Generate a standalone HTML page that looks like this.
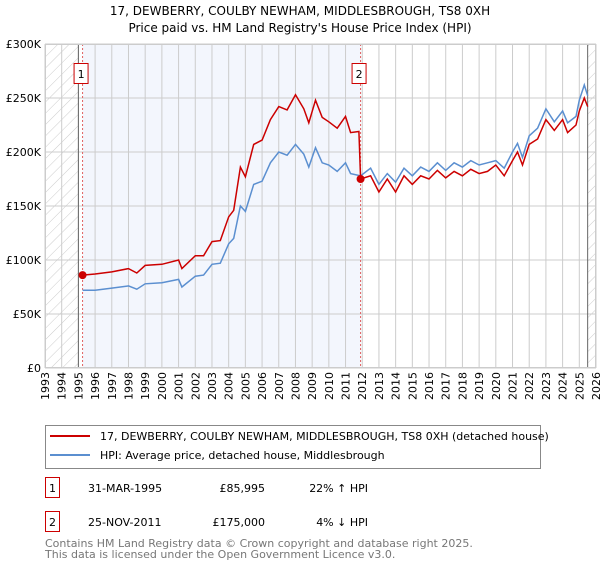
<!DOCTYPE html>
<html><head><meta charset="utf-8"><style>
body{margin:0;background:#fff;font-family:"DejaVu Sans","Liberation Sans",sans-serif;}
</style></head><body>
<svg width="600" height="560" xmlns="http://www.w3.org/2000/svg" style="font-family:'DejaVu Sans','Liberation Sans',sans-serif">
<defs><pattern id="hatch" width="8" height="8" patternUnits="userSpaceOnUse" patternTransform="rotate(45)"><line x1="0" y1="0" x2="0" y2="8" stroke="#ccc" stroke-width="1"/></pattern></defs>
<text x="300" y="15" text-anchor="middle" font-size="12">17, DEWBERRY, COULBY NEWHAM, MIDDLESBROUGH, TS8 0XH</text>
<text x="300" y="32" text-anchor="middle" font-size="12">Price paid vs. HM Land Registry's House Price Index (HPI)</text>
<g id="plot"></g>
<g>
<rect x="45.5" y="425.5" width="495" height="43" fill="#fff" stroke="#888"/>
<line x1="50" y1="436" x2="90" y2="436" stroke="#cc0000" stroke-width="2"/>
<text x="100" y="440" font-size="11">17, DEWBERRY, COULBY NEWHAM, MIDDLESBROUGH, TS8 0XH (detached house)</text>
<line x1="50" y1="455" x2="90" y2="455" stroke="#5b8fd0" stroke-width="2"/>
<text x="100" y="459" font-size="11">HPI: Average price, detached house, Middlesbrough</text>
</g>
<g font-size="11">
<rect x="45.5" y="477.5" width="14" height="20" fill="#fff" stroke="#cc0000"/>
<text x="52.5" y="492" text-anchor="middle">1</text>
<text x="88" y="492">31-MAR-1995</text><text x="265" y="492" text-anchor="end">£85,995</text><text x="368" y="492" text-anchor="end">22% ↑ HPI</text>
<rect x="45.5" y="511.5" width="14" height="20" fill="#fff" stroke="#cc0000"/>
<text x="52.5" y="526" text-anchor="middle">2</text>
<text x="88" y="526">25-NOV-2011</text><text x="265" y="526" text-anchor="end">£175,000</text><text x="368" y="526" text-anchor="end">4% ↓ HPI</text>
</g>
<text x="45" y="547" font-size="11" fill="#777">Contains HM Land Registry data © Crown copyright and database right 2025.</text>
<text x="45" y="558" font-size="11" fill="#777">This data is licensed under the Open Government Licence v3.0.</text>
</svg>
<script>
const yTicks=[0,50,100,150,200,250,300];
const yTickLabels=["£0","£50K","£100K","£150K","£200K","£250K","£300K"];
const xYears=[1993,1994,1995,1996,1997,1998,1999,2000,2001,2002,2003,2004,2005,2006,2007,2008,2009,2010,2011,2012,2013,2014,2015,2016,2017,2018,2019,2020,2021,2022,2023,2024,2025,2026];
const hpiDates=[1995.25,1996,1997,1998,1998.5,1999,2000,2001,2001.2,2002,2002.5,2003,2003.5,2004,2004.3,2004.7,2005,2005.5,2006,2006.5,2007,2007.5,2008,2008.5,2008.8,2009.2,2009.6,2010,2010.5,2011,2011.3,2011.9,2012.5,2013,2013.5,2014,2014.5,2015,2015.5,2016,2016.5,2017,2017.5,2018,2018.5,2019,2019.5,2020,2020.5,2021,2021.3,2021.6,2022,2022.5,2023,2023.5,2024,2024.3,2024.8,2025,2025.3,2025.5];
const hpiValues=[72,72,74,76,73,78,79,82,75,85,86,96,97,115,120,150,145,170,173,190,200,197,207,198,186,204,190,188,182,190,180,178,185,170,180,172,185,178,186,182,190,183,190,186,192,188,190,192,185,200,208,195,215,222,240,228,238,227,233,248,262,252];
const priceDates=[1995.25,1996,1997,1998,1998.5,1999,2000,2001,2001.2,2002,2002.5,2003,2003.5,2004,2004.3,2004.7,2005,2005.5,2006,2006.5,2007,2007.5,2008,2008.5,2008.8,2009.2,2009.6,2010,2010.5,2011,2011.3,2011.8,2011.9,2012.5,2013,2013.5,2014,2014.5,2015,2015.5,2016,2016.5,2017,2017.5,2018,2018.5,2019,2019.5,2020,2020.5,2021,2021.3,2021.6,2022,2022.5,2023,2023.5,2024,2024.3,2024.8,2025,2025.3,2025.5];
const priceValues=[86,87,89,92,88,95,96,100,92,104,104,117,118,140,146,186,177,207,211,230,242,239,253,240,227,248,232,228,222,233,218,219,175,178,163,175,163,178,170,178,175,183,176,182,178,184,180,182,188,178,192,200,188,207,212,230,220,230,218,225,238,250,242];
const saleDates=[1995.25,2011.9];
const saleValues=[86,175];
const saleLabels=["1","2"];

const L=45,R=596,T=44,B=368,X0=1993,X1=2026,YMAX=300;
const xs=v=>L+(v-X0)/(X1-X0)*(R-L);
const ys=v=>B-v/YMAX*(B-T);
const NS="http://www.w3.org/2000/svg";
const plot=document.getElementById('plot');
function mk(tag,attrs,parent){const e=document.createElementNS(NS,tag);for(const k in attrs)e.setAttribute(k,attrs[k]);(parent||plot).appendChild(e);return e;}
let e;
e=mk('rect',{x:L,y:T,width:R-L,height:B-T,fill:'#fff'});
e=mk('rect',{x:xs(1993),y:T,width:xs(1995)-xs(1993),height:B-T,fill:'url(#hatch)'});


e=mk('rect',{x:xs(2025.5),y:T,width:R-xs(2025.5),height:B-T,fill:'url(#hatch)'});


e=mk('rect',{x:xs(saleDates[0]),y:T,width:xs(saleDates[1])-xs(saleDates[0]),height:B-T,fill:'#f3f6fd'});


xYears.forEach(y=>{e=mk('line',{x1:xs(y),x2:xs(y),y1:T,y2:B,stroke:'#ccc','stroke-width':1});


const t=mk('text',{x:0,y:0,'font-size':11,'text-anchor':'end',transform:`translate(${xs(y)+4},${B+4}) rotate(-90)`});t.textContent=y;

});
yTicks.forEach((v,i)=>{e=mk('line',{x1:L,x2:R,y1:ys(v),y2:ys(v),stroke:'#ccc','stroke-width':1});


const t=mk('text',{x:L-4,y:ys(v)+4,'font-size':11,'text-anchor':'end'});t.textContent=yTickLabels[i];

});
[1995,2025.5].forEach(y=>{e=mk('line',{x1:xs(y),x2:xs(y),y1:T,y2:B,stroke:'#666','stroke-width':1});

});
saleDates.forEach(d=>{e=mk('line',{x1:xs(d),x2:xs(d),y1:T,y2:B,stroke:'#e06060','stroke-width':1,'stroke-dasharray':'2,2'});

});
e=mk('path',{d:hpiDates.map((d,i)=>(i?'L':'M')+xs(d).toFixed(1)+','+ys(hpiValues[i]).toFixed(1)).join(''),fill:'none',stroke:'#5b8fd0','stroke-width':1.5});


e=mk('path',{d:priceDates.map((d,i)=>(i?'L':'M')+xs(d).toFixed(1)+','+ys(priceValues[i]).toFixed(1)).join(''),fill:'none',stroke:'#cc0000','stroke-width':1.5});


saleDates.forEach((d,i)=>{e=mk('circle',{cx:xs(d),cy:ys(saleValues[i]),r:4,fill:'#cc0000'});


const bx=xs(d)-9;e=mk('rect',{x:bx+0.5,y:63.5,width:14,height:20,fill:'#fff',stroke:'#cc0000'});


const t=mk('text',{x:bx+7.5,y:78,'font-size':11,'text-anchor':'middle'});t.textContent=saleLabels[i];

});
e=mk('rect',{x:L+0.5,y:T+0.5,width:R-L-1,height:B-T-1,fill:'none',stroke:'#ccc'});
</script>
</body></html>
